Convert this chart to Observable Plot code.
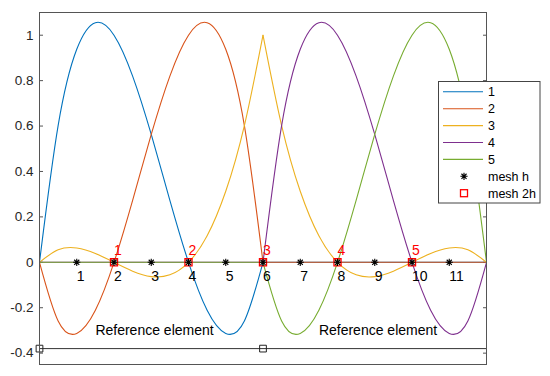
<!DOCTYPE html>
<html><head><meta charset="utf-8">
<script src="https://cdn.jsdelivr.net/npm/d3@7"></script>
<script src="https://cdn.jsdelivr.net/npm/@observablehq/plot@0.6"></script>
<style>
body{margin:0;background:#fff;}
#wrap{position:relative;width:550px;height:376px;font-family:"Liberation Sans",Arial,sans-serif;}
#legend{position:absolute;left:438px;top:81px;}
</style></head><body><div id="wrap"></div>
<script>
// sample positions (in units of h)
const xs = [0,0.5,1,1.5,2,2.5,3,3.5,4,4.5,5,5.5,6,6.5,7,7.5,8,8.5,9,9.5,10,10.5,11,11.5,12];
const seriesNames = ["1","2","3","4","5"];
const seriesColors = ["#0072BD","#D95319","#EDB120","#7E2F8E","#77AC30"];
const s1 = [0,0.602,0.938,1.055,1,0.820,0.563,0.273,0,-0.211,-0.313,-0.258,0, 0,0,0,0,0,0,0,0,0,0,0,0];
const s2 = [0,-0.258,-0.313,-0.211,0,0.273,0.563,0.820,1,1.055,0.938,0.602,0, 0,0,0,0,0,0,0,0,0,0,0,0];
const s3 = [0,0.055,0.063,0.039,0,-0.039,-0.063,-0.055,0,0.117,0.313,0.602,1, 0.602,0.313,0.117,0,-0.055,-0.063,-0.039,0,0.039,0.063,0.055,0];
const s4 = [0,0,0,0,0,0,0,0,0,0,0,0,0, 0.602,0.938,1.055,1,0.820,0.563,0.273,0,-0.211,-0.313,-0.258,0];
const s5 = [0,0,0,0,0,0,0,0,0,0,0,0,0, -0.258,-0.313,-0.211,0,0.273,0.563,0.820,1,1.055,0.938,0.602,0];
const elementBreak = 6;

const meshH = [1,2,3,4,5,6,7,8,9,10,11];
const meshHLabels = ["1","2","3","4","5","6","7","8","9","10","11"];
const mesh2h = [2,4,6,8,10];
const mesh2hLabels = ["1","2","3","4","5"];
const refElemX = [1.5, 7.5];
const refElemLabels = ["Reference element","Reference element"];
const refLineX = [0, 12];
const refLineY = -0.38;
const refNodeX = [0, 6];
const yTicks = [-0.4,-0.2,0,0.2,0.4,0.6,0.8,1];
const yTickLabels = ["-0.4","-0.2","0","0.2","0.4","0.6","0.8","1"];
const legendLabels = ["1","2","3","4","5","mesh h","mesh 2h"];

// build table
const allSeries = [s1,s2,s3,s4,s5];
const rows = [];
allSeries.forEach((s, k) => {
  xs.forEach((x, i) => {
    if (x <= elementBreak) rows.push({series: seriesNames[k], seg: seriesNames[k]+"a", x, y: s[i]});
    if (x >= elementBreak) rows.push({series: seriesNames[k], seg: seriesNames[k]+"b", x, y: s[i]});
  });
});

const starSymbol = {draw(ctx, size){
  const r = Math.sqrt(size/Math.PI), d = r*0.7071;
  ctx.moveTo(-r,0); ctx.lineTo(r,0);
  ctx.moveTo(0,-r); ctx.lineTo(0,r);
  ctx.moveTo(-d,-d); ctx.lineTo(d,d);
  ctx.moveTo(-d,d); ctx.lineTo(d,-d);
}};

const fmt = d => yTickLabels[yTicks.findIndex(t => Math.abs(t-d) < 1e-9)];

const chart = Plot.plot({
  width: 550, height: 376,
  marginLeft: 39, marginRight: 64, marginTop: 12, marginBottom: 12,
  style: {fontFamily: '"Liberation Sans", Arial, sans-serif', fontSize: "13px", background: "#fff"},
  x: {domain: [0, 12], axis: null},
  y: {domain: [-0.45, 1.1], axis: null},
  color: {domain: seriesNames, range: seriesColors},
  marks: [
    Plot.axisY(yTicks, {anchor: "left", tickSize: 0, tickPadding: 6, tickFormat: fmt, fontSize: 13.5, fill: "#262626", label: null}),
    Plot.axisY(yTicks, {anchor: "left", tickSize: 4, dx: 4, tickPadding: 0, tickFormat: () => "", stroke: "#555", label: null}),
    Plot.axisY(yTicks, {anchor: "right", tickSize: 4, dx: -4, tickPadding: 0, tickFormat: () => "", stroke: "#555", label: null}),
    Plot.line(rows, {x: "x", y: "y", z: "seg", stroke: "series", strokeWidth: 1.1, curve: "natural"}),
    Plot.dot(mesh2h, {x: d => d, y: () => 0, symbol: "square", r: 4, stroke: "#ff0000", fill: "none", strokeWidth: 1.3}),
    Plot.dot(meshH, {x: d => d, y: () => 0, symbol: starSymbol, r: 3.6, stroke: "black", fill: "none", strokeWidth: 1.1}),
    Plot.text(meshH, {x: d => d, y: () => -0.063, text: (d, i) => meshHLabels[i], textAnchor: "start", fontSize: 14, fill: "black"}),
    Plot.text(mesh2h, {x: d => d, y: () => 0.054, text: (d, i) => mesh2hLabels[i], textAnchor: "start", fontSize: 14, fill: "#ff0000"}),
    Plot.text(refElemX, {x: d => d, y: () => -0.3, text: (d, i) => refElemLabels[i], textAnchor: "start", fontSize: 14, fill: "black"}),
    Plot.line(refLineX, {x: d => d, y: () => refLineY, stroke: "#333", strokeWidth: 1}),
    Plot.dot(refNodeX, {x: d => d, y: () => refLineY, symbol: "square", r: 3.8, stroke: "#222", fill: "none", strokeWidth: 1}),
    Plot.frame({stroke: "#555"})
  ]
});

const wrap = document.getElementById("wrap");
wrap.appendChild(chart);

// legend (overlapping the axes, as in the original)
const ns = "http://www.w3.org/2000/svg";
const leg = document.createElementNS(ns, "svg");
leg.setAttribute("id", "legend");
leg.setAttribute("width", 103); leg.setAttribute("height", 123);
leg.style.position = "absolute"; leg.style.left = "438px"; leg.style.top = "81px";
const el = (tag, attrs) => { const e = document.createElementNS(ns, tag); for (const k in attrs) e.setAttribute(k, attrs[k]); leg.appendChild(e); return e; };
el("rect", {x: 0.5, y: 0.5, width: 101.5, height: 121.5, fill: "#fff", stroke: "#444"});
legendLabels.forEach((lab, i) => {
  const y = 10.8 + 16.9 * i;
  if (i < 5) {
    el("line", {x1: 5, x2: 45, y1: y, y2: y, stroke: seriesColors[i], "stroke-width": 1.1});
  } else if (i === 5) {
    const r = 3.6, d = r*0.7071, cx = 26;
    el("path", {d: `M${cx-r},${y}H${cx+r}M${cx},${y-r}V${y+r}M${cx-d},${y-d}L${cx+d},${y+d}M${cx-d},${y+d}L${cx+d},${y-d}`, stroke: "black", "stroke-width": 1.1, fill: "none"});
  } else {
    el("rect", {x: 26-3.5, y: y-3.5, width: 7, height: 7, stroke: "#ff0000", fill: "none", "stroke-width": 1.3});
  }
  const t = el("text", {x: 50, y: y, dy: "0.35em", "font-size": 12.5, fill: "black", "font-family": '"Liberation Sans", Arial, sans-serif'});
  t.textContent = lab;
});
wrap.appendChild(leg);
</script></body></html>
